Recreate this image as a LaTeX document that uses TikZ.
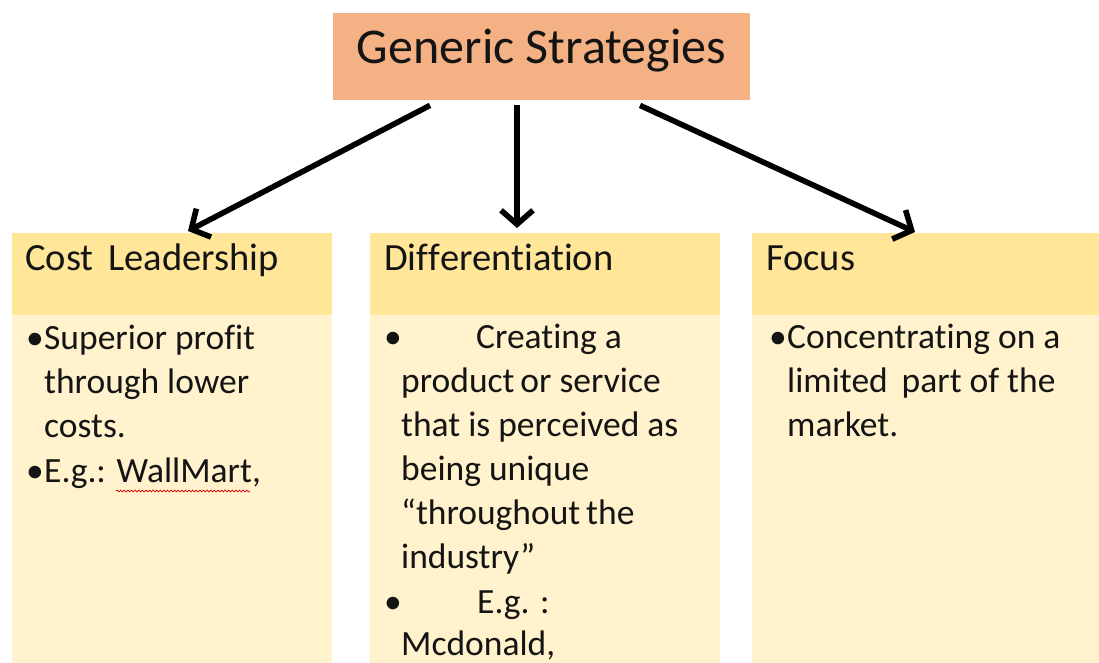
\documentclass[tikz,border=0pt]{standalone}
\usepackage{fontspec}
\setmainfont{Carlito}[Ligatures={NoCommon,NoContextual}]
\usetikzlibrary{arrows.meta,decorations.pathmorphing}

% zero kern: keeps letter pairs such as f-i and t-i as separate glyphs
\newcommand{\brk}{\kern0pt }

\definecolor{titlefill}{HTML}{F4B183}
\definecolor{headfill}{HTML}{FFE699}
\definecolor{bodyfill}{HTML}{FFF2CC}
\definecolor{ink}{HTML}{141414}

\tikzset{
  titlebox/.style={fill=titlefill, draw=none, inner sep=0pt, anchor=north west,
                   minimum width=417pt, minimum height=87pt},
  headbox/.style={fill=headfill, draw=none, inner sep=0pt, anchor=north west,
                  minimum height=82pt},
  bodybox/.style={fill=bodyfill, draw=none, inner sep=0pt, anchor=north west,
                  minimum height=360pt},
  titletext/.style={text=ink, inner sep=0pt, anchor=base,
                    font=\fontsize{50}{58}\selectfont},
  headtext/.style={text=ink, inner sep=0pt, anchor=base west,
                   font=\fontsize{38.5}{46}\selectfont},
  bodytext/.style={text=ink, inner sep=0pt, anchor=base west,
                   font=\fontsize{35.5}{44}\selectfont},
  bullet/.style={bodytext, anchor=base east},
  link/.style={draw=black, line width=5.6pt,
               -{Straight Barb[length=14pt,width=32pt,line cap=butt]}},
  spell/.style={draw=red!85!black, line width=0.7pt,
                decorate, decoration={snake, amplitude=0.9pt, segment length=3.6pt}}
}

\begin{document}
\begin{tikzpicture}[x=1pt, y=-1pt]
  \useasboundingbox (0,0) rectangle (1099,662);
  \clip (0,0) rectangle (1099,662);

  % title
  \node[titlebox] (title) at (333,13) {};
  \node[titletext] (titlelabel) at (541.5,63) {Generic Strategies};

  % three columns: header strip and body panel
  \node[headbox, minimum width=320pt] (costhead)  at (12,233)  {};
  \node[bodybox, minimum width=320pt] (costbody)  at (12,315)  {};
  \node[headbox, minimum width=350pt] (diffhead)  at (370,233) {};
  \node[bodybox, minimum width=350pt] (diffbody)  at (370,315) {};
  \node[headbox, minimum width=360pt] (focushead) at (752,233) {};
  \node[bodybox, minimum width=360pt] (focusbody) at (752,315) {};

  \node[headtext] (costlabel)  at (25,270)  {Cost\, Leadership};
  \node[headtext] (difflabel)  at (384,270) {Dif\brk f\brk erent\brk iat\brk ion};
  \node[headtext] (focuslabel) at (766,270) {Focus};

  % cost leadership
  \node[bullet] (costb1) at (44,349) {\textbullet};
  \foreach \t [count=\i] in {Superior prof\brk it, through lower, costs.}
    \node[bodytext] (cost-\i) at (44,{349+(\i-1)*44}) {\t};
  \node[bullet] (costb2) at (44,482) {\textbullet};
  \node[bodytext] (cost-4) at (44,482) {E.g.: WallMart,};
  \draw[spell] (116,491) -- (250,491);

  % differentiation
  \node[bodytext] (diffb1) at (384,348) {\textbullet};
  \node[bodytext] (diff-1) at (476,348) {Creat\brk ing a};
  \foreach \t [count=\i from 2] in {product\,or service, that is perceived as,
      being unique, {“throughout\,the}, {industry”}}
    \node[bodytext] (diff-\i) at (401,{348+(\i-1)*44}) {\t};
  \node[bodytext] (diffb2) at (384,613) {\textbullet};
  \node[bodytext] (diff-7) at (477,613) {E.g. :};
  \node[bodytext] (diff-8) at (401,655) {Mcdonald,};

  % focus
  \node[bullet] (focusb1) at (787,348) {\textbullet};
  \foreach \t [count=\i] in {Concent\brk rat\brk ing on a, limited\, part of the, market.}
    \node[bodytext] (focus-\i) at (787,{348+(\i-1)*44}) {\t};

  % connectors
  \draw[link] ([xshift=97pt,yshift=-5pt]title.south west)
           -- ([xshift=176pt,yshift=2pt]costhead.north west);
  \draw[link] ([xshift=184pt,yshift=-5pt]title.south west)
           -- ([xshift=147pt,yshift=5pt]diffhead.north west);
  \draw[link] ([xshift=307pt,yshift=-5pt]title.south west)
           -- ([xshift=163pt,yshift=1pt]focushead.north west);
\end{tikzpicture}
\end{document}
